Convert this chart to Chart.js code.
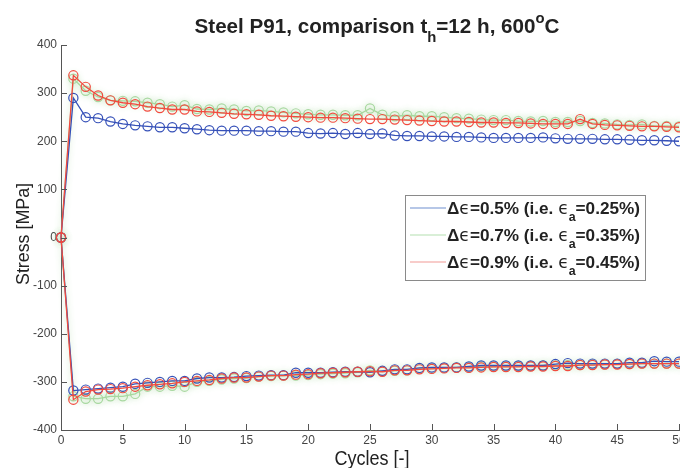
<!DOCTYPE html>
<html>
<head>
<meta charset="utf-8">
<script src="https://cdn.jsdelivr.net/npm/chart.js@4"></script>
<style>
  html, body { margin: 0; padding: 0; background: #fff; }
  #wrap { width: 680px; height: 468px; }
</style>
</head>
<body>
<div id="wrap"><canvas id="chart" width="680" height="468"></canvas></div>
<script>
// cycle numbers and axis ticks
var cycles = [0,1,2,3,4,5,6,7,8,9,10,11,12,13,14,15,16,17,18,19,20,21,22,23,24,25,
              26,27,28,29,30,31,32,33,34,35,36,37,38,39,40,41,42,43,44,45,46,47,48,49,50];
var xTicks = [0,5,10,15,20,25,30,35,40,45,50];
var yTicks = [-400,-300,-200,-100,0,100,200,300,400];

// stress max / min per cycle [MPa]
var blueMax = [0,290,250,248,241,236,233,231,229,229,227,225,223,222,222,222,221,221,220,220,217,
               216,217,215,217,215,216,212,211,211,210,210,209,209,208,207,207,207,207,208,206,
               205,205,205,204,204,203,202,202,201,200];
var blueMin = [0,-318,-316,-314,-312,-310,-304,-302,-300,-298,-298,-293,-291,-291,-290,-288,-287,-286,-286,-281,-281,
               -281,-280,-279,-279,-280,-277,-274,-274,-271,-270,-270,-270,-268,-266,-266,-266,-266,-266,-266,-263,
               -261,-262,-262,-262,-262,-260,-260,-257,-258,-258];
var greenMax = [0,330,305,292,285,284,283,280,277,272,275,267,266,268,266,263,264,262,260,258,256,
                255,255,254,254,268,255,252,254,252,252,250,248,247,245,244,244,242,241,242,240,
                240,242,238,237,235,234,235,232,232,231];
var greenMin = [0,-330,-335,-335,-330,-330,-325,-310,-310,-308,-310,-300,-298,-295,-293,-292,-289,-288,-287,-287,-286,
                -284,-283,-282,-280,-276,-278,-277,-276,-272,-272,-271,-270,-270,-268,-268,-268,-267,-267,-266,-266,
                -265,-265,-264,-264,-263,-263,-262,-262,-262,-262];
var redMax = [0,337,313,295,285,280,277,272,269,266,266,262,261,259,257,256,255,253,252,251,250,
              249,249,248,247,246,246,245,244,243,242,241,241,240,239,239,238,238,237,236,236,
              236,246,236,234,233,232,231,231,230,229];
var redMin = [0,-337,-320,-316,-315,-313,-310,-307,-305,-303,-300,-298,-296,-293,-291,-291,-289,-287,-287,-285,-284,
              -282,-281,-280,-279,-278,-279,-276,-276,-274,-273,-272,-271,-271,-270,-269,-269,-269,-268,-268,-267,
              -267,-265,-265,-264,-264,-263,-262,-262,-262,-262];

var BLUE = '#3550b8', GREEN = '#a8d8a0', RED = '#f24a3e';

function pts(vals) {
  return cycles.map(function (c, i) { return { x: c, y: vals[i] }; });
}
function series(vals, color, order, tag) {
  return {
    label: tag, data: pts(vals), borderColor: color, backgroundColor: 'rgba(0,0,0,0)',
    borderWidth: 1.3, pointRadius: 4.6, pointBorderWidth: 1.2, pointBorderColor: color,
    pointBackgroundColor: 'rgba(0,0,0,0)', tension: 0, clip: false, order: order
  };
}

// text with sub/superscript parts, squeezed horizontally to a given width
function richText(ctx, segs, size, weight, family) {
  var w = 0;
  segs.forEach(function (s) {
    var fs = s.sub || s.sup ? size * 0.72 : size;
    ctx.font = (s.wt || weight) + ' ' + fs + 'px ' + (s.fam || family);
    s.w = ctx.measureText(s.t).width; s.fs = fs; w += s.w;
  });
  return w;
}
function drawRich(ctx, segs, x, y, size, weight, family, sx, align) {
  var w = richText(ctx, segs, size, weight, family) * sx;
  var x0 = align === 'center' ? x - w / 2 : x;
  ctx.save();
  ctx.translate(x0, y);
  ctx.scale(sx, 1);
  ctx.textBaseline = 'alphabetic';
  ctx.textAlign = 'left';
  var cx = 0;
  segs.forEach(function (s) {
    ctx.font = (s.wt || weight) + ' ' + s.fs + 'px ' + (s.fam || family);
    var dy = s.sub ? size * 0.42 : (s.sup ? -size * 0.48 : 0);
    ctx.fillText(s.t, cx, dy);
    cx += s.w;
  });
  ctx.restore();
}

var FAM = "'Liberation Sans', Arial, Helvetica, sans-serif";
var TICKFAM = "'Liberation Sans Narrow', 'Liberation Sans', Arial, sans-serif";
var legendItems = [
  { color: '#6f8fd0', val: '0.5%', amp: '0.25%' },
  { color: '#b4e0b0', val: '0.7%', amp: '0.35%' },
  { color: '#f29a95', val: '0.9%', amp: '0.45%' }
];

var decor = {
  id: 'decor',
  beforeDatasetDraw: function (chart, args) {
    var ds = chart.data.datasets[args.index];
    if (ds.label.indexOf('green') === 0) {
      chart.ctx.save();
      chart.ctx.shadowColor = 'rgba(170,215,160,0.9)';
      chart.ctx.shadowBlur = 6;
    }
  },
  afterDatasetDraw: function (chart, args) {
    var ds = chart.data.datasets[args.index];
    if (ds.label.indexOf('green') === 0) chart.ctx.restore();
  },
  afterDraw: function (chart) {
    var ctx = chart.ctx, xs = chart.scales.x, ys = chart.scales.y, a = chart.chartArea;
    ctx.save();
    // inward tick marks
    ctx.strokeStyle = '#555'; ctx.lineWidth = 1;
    ctx.beginPath();
    xTicks.forEach(function (v) {
      var px = Math.round(xs.getPixelForValue(v)) + 0.5;
      ctx.moveTo(px, a.bottom); ctx.lineTo(px, a.bottom - 6);
    });
    yTicks.forEach(function (v) {
      var py = Math.round(ys.getPixelForValue(v)) + 0.5;
      ctx.moveTo(a.left, py); ctx.lineTo(a.left + 6, py);
    });
    ctx.stroke();

    // x tick labels (last one runs off the canvas edge, as in the original)
    ctx.fillStyle = '#444';
    ctx.font = '12px ' + TICKFAM;
    ctx.textAlign = 'center';
    ctx.textBaseline = 'middle';
    xTicks.forEach(function (v) {
      ctx.fillText(String(v), xs.getPixelForValue(v), a.bottom + 11);
    });

    ctx.fillStyle = '#222';
    // title
    var title = [{ t: 'Steel P91, comparison t' }, { t: 'h', sub: true }, { t: '=12 h, 600' },
                 { t: 'o', sup: true }, { t: 'C' }];
    var tw = richText(ctx, title, 21, 'bold', FAM);
    drawRich(ctx, title, 377, 33, 21, 'bold', FAM, 365 / tw, 'center');

    // axis titles
    var xt = [{ t: 'Cycles [-]' }];
    var xw = richText(ctx, xt, 20, 'normal', FAM);
    drawRich(ctx, xt, 372, 465, 20, 'normal', FAM, 75 / xw, 'center');

    var yt = [{ t: 'Stress [MPa]' }];
    var yw = richText(ctx, yt, 18, 'normal', FAM);
    ctx.save();
    ctx.translate(29, 234);
    ctx.rotate(-Math.PI / 2);
    drawRich(ctx, yt, 0, 0, 18, 'normal', FAM, 102 / yw, 'center');
    ctx.restore();

    // legend box
    ctx.fillStyle = '#fff';
    ctx.fillRect(405, 195, 240, 85);
    ctx.strokeStyle = '#8a8a8a'; ctx.lineWidth = 1;
    ctx.strokeRect(405.5, 195.5, 240, 85);
    var rows = [208, 235, 262];
    var EPS = "'DejaVu Sans', sans-serif";
    legendItems.forEach(function (it, i) {
      ctx.strokeStyle = it.color; ctx.lineWidth = 1.2;
      ctx.beginPath(); ctx.moveTo(410, rows[i]); ctx.lineTo(446, rows[i]); ctx.stroke();
      var segs = [{ t: '\u0394' }, { t: '\u03f5', fam: EPS, wt: 'normal' },
                  { t: '=' + it.val + ' (i.e. ' }, { t: '\u03f5', fam: EPS, wt: 'normal' },
                  { t: 'a', sub: true }, { t: '=' + it.amp + ')' }];
      var lw = richText(ctx, segs, 17, 'bold', FAM);
      ctx.fillStyle = '#222';
      drawRich(ctx, segs, 447, rows[i] + 6, 17, 'bold', FAM, 193 / lw, 'left');
    });
    ctx.restore();
  }
};

new Chart(document.getElementById('chart'), {
  type: 'line',
  data: {
    datasets: [
      series(redMax, RED, 1, 'redMax'),
      series(redMin, RED, 1, 'redMin'),
      series(blueMax, BLUE, 2, 'blueMax'),
      series(blueMin, BLUE, 2, 'blueMin'),
      series(greenMax, GREEN, 3, 'greenMax'),
      series(greenMin, GREEN, 3, 'greenMin')
    ]
  },
  options: {
    responsive: false,
    animation: false,
    devicePixelRatio: 1,
    layout: { autoPadding: false, padding: { top: 45, right: 1, bottom: 0, left: 0 } },
    plugins: { legend: { display: false }, title: { display: false }, tooltip: { enabled: false } },
    scales: {
      x: {
        type: 'linear', min: 0, max: 50,
        afterBuildTicks: function (s) { s.ticks = xTicks.map(function (v) { return { value: v }; }); },
        afterFit: function (s) { s.height = 38; },
        ticks: { display: false },
        grid: { display: false, drawTicks: false },
        border: { display: true, color: '#555', width: 1 }
      },
      y: {
        type: 'linear', min: -400, max: 400,
        afterBuildTicks: function (s) { s.ticks = yTicks.map(function (v) { return { value: v }; }); },
        afterFit: function (s) { s.width = 61; },
        ticks: { font: { family: TICKFAM, size: 12 }, color: '#444', padding: 4, autoSkip: false },
        grid: { display: false, drawTicks: false },
        border: { display: true, color: '#555', width: 1 }
      }
    }
  },
  plugins: [decor]
});
</script>
</body>
</html>
